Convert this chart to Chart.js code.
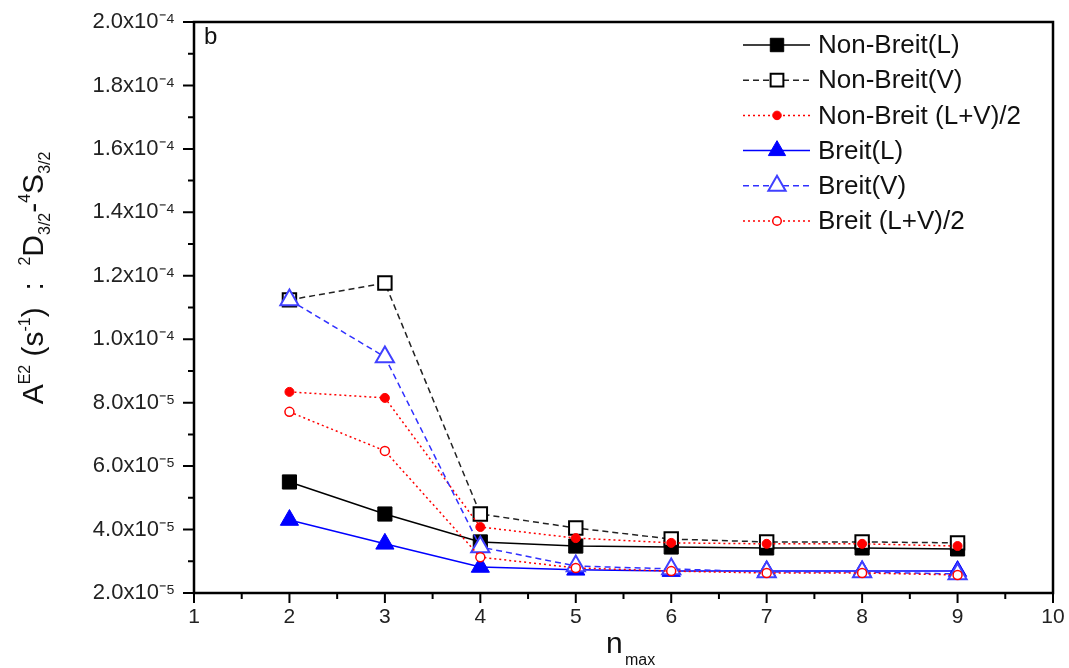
<!DOCTYPE html>
<html><head><meta charset="utf-8">
<script src="https://cdn.jsdelivr.net/npm/chart.js@4"></script>
<style>html,body{margin:0;padding:0;background:#fff}#wrap{width:1069px;height:668px;position:relative}</style>
</head><body><div id="wrap"><canvas id="c"></canvas></div>
<script>
// ---- data ----
const nmax = [2, 3, 4, 5, 6, 7, 8, 9];
const nonBreitL   = [5.50e-5, 4.49e-5, 3.61e-5, 3.48e-5, 3.45e-5, 3.42e-5, 3.42e-5, 3.39e-5];
const nonBreitV   = [1.124e-4, 1.177e-4, 4.49e-5, 4.05e-5, 3.70e-5, 3.61e-5, 3.61e-5, 3.58e-5];
const nonBreitAvg = [8.34e-5, 8.15e-5, 4.08e-5, 3.73e-5, 3.58e-5, 3.55e-5, 3.55e-5, 3.48e-5];
const breitL      = [4.30e-5, 3.55e-5, 2.82e-5, 2.73e-5, 2.69e-5, 2.69e-5, 2.69e-5, 2.69e-5];
const breitV      = [1.124e-4, 9.44e-5, 3.45e-5, 2.85e-5, 2.76e-5, 2.66e-5, 2.66e-5, 2.60e-5];
const breitAvg    = [7.71e-5, 6.48e-5, 3.13e-5, 2.79e-5, 2.69e-5, 2.63e-5, 2.63e-5, 2.57e-5];
const seriesNames = ['Non-Breit(L)', 'Non-Breit(V)', 'Non-Breit (L+V)/2', 'Breit(L)', 'Breit(V)', 'Breit (L+V)/2'];
const xTickLabels = ['1','2','3','4','5','6','7','8','9','10'];
const yTickMantissa = ['2.0','4.0','6.0','8.0','1.0','1.2','1.4','1.6','1.8','2.0'];
const yTickExponent = ['-5','-5','-5','-5','-4','-4','-4','-4','-4','-4'];
const panelLabel = 'b';

const SUP = {'-':'\u207B','0':'\u2070','1':'\u00B9','2':'\u00B2','3':'\u00B3','4':'\u2074','5':'\u2075','6':'\u2076','7':'\u2077','8':'\u2078','9':'\u2079'};
const toSup = s => s.split('').map(c => SUP[c] || c).join('');

const FONT = "'Liberation Sans', Arial, sans-serif";
const pts = arr => arr.map((v, i) => ({x: nmax[i], y: v}));

const styles = [
  {borderColor:'#000', borderDash:[], pointStyle:'rect', pointRadius:10, pointBackgroundColor:'#000', pointBorderColor:'#000', borderWidth:1.5, pointBorderWidth:1},
  {borderColor:'#222', borderDash:[6,4], pointStyle:'rect', pointRadius:9.5, pointBackgroundColor:'#fff', pointBorderColor:'#000', borderWidth:1.5, pointBorderWidth:2},
  {borderColor:'#ff0000', borderDash:[2,3], pointStyle:'circle', pointRadius:4.5, pointBackgroundColor:'#ff0000', pointBorderColor:'#ff0000', borderWidth:1.5, pointBorderWidth:1},
  {borderColor:'#0000ff', borderDash:[], pointStyle:'triangle', pointRadius:10.5, pointBackgroundColor:'#0000ff', pointBorderColor:'#0000ff', borderWidth:1.5, pointBorderWidth:1},
  {borderColor:'#3030ff', borderDash:[6,4], pointStyle:'triangle', pointRadius:10.5, pointBackgroundColor:'#fff', pointBorderColor:'#4040ff', borderWidth:1.5, pointBorderWidth:2},
  {borderColor:'#ff0000', borderDash:[2,3], pointStyle:'circle', pointRadius:4.5, pointBackgroundColor:'#fff', pointBorderColor:'#ff0000', borderWidth:1.5, pointBorderWidth:1.5}
];
const seriesData = [nonBreitL, nonBreitV, nonBreitAvg, breitL, breitV, breitAvg];

const datasets = seriesData.map((d, i) => Object.assign({
  label: seriesNames[i], data: pts(d), showLine: true, fill: false, tension: 0,
  pointHoverRadius: styles[i].pointRadius, order: 5 - i
}, styles[i]));

const framePlugin = {
  id: 'frame',
  afterDraw(chart) {
    const {ctx, chartArea: a, scales} = chart;
    const xs = scales.x, ys = scales.y;
    ctx.save();
    ctx.strokeStyle = '#000';
    ctx.lineWidth = 2.5;
    ctx.strokeRect(a.left, a.top, a.right - a.left, a.bottom - a.top);
    ctx.lineWidth = 2;
    ctx.beginPath();
    for (let v = 1; v <= 10.001; v += 0.5) {
      const px = xs.getPixelForValue(v);
      const len = Math.abs(v - Math.round(v)) < 1e-6 ? 10 : 6;
      ctx.moveTo(px, a.bottom); ctx.lineTo(px, a.bottom + len);
    }
    for (let k = 0; k <= 18; k++) {
      const v = 2e-5 + k * 1e-5;
      const py = ys.getPixelForValue(v);
      const len = k % 2 === 0 ? 11 : 6;
      ctx.moveTo(a.left, py); ctx.lineTo(a.left - len, py);
    }
    ctx.stroke();

    // panel label
    ctx.fillStyle = '#111';
    ctx.font = '24px ' + FONT;
    ctx.textBaseline = 'alphabetic';
    ctx.textAlign = 'left';
    ctx.fillText(panelLabel, a.left + 10, a.top + 22);

    // legend
    const lx0 = 743, lx1 = 810, mx = 777, tx = 818, ly0 = 45, dy = 35.2;
    chart.data.datasets.forEach((ds, i) => {
      const y = ly0 + i * dy;
      ctx.save();
      ctx.strokeStyle = ds.borderColor;
      ctx.lineWidth = 1.5;
      ctx.setLineDash(ds.borderDash || []);
      ctx.beginPath(); ctx.moveTo(lx0, y); ctx.lineTo(lx1, y); ctx.stroke();
      ctx.setLineDash([]);
      ctx.fillStyle = ds.pointBackgroundColor;
      ctx.strokeStyle = ds.pointBorderColor;
      ctx.lineWidth = ds.pointBorderWidth;
      Chart.helpers.drawPoint(ctx, {pointStyle: ds.pointStyle, radius: ds.pointRadius * 0.95, rotation: 0, borderWidth: ds.pointBorderWidth}, mx, y);
      ctx.restore();
      ctx.fillStyle = '#111';
      ctx.font = '26px ' + FONT;
      ctx.textBaseline = 'middle';
      ctx.textAlign = 'left';
      ctx.fillText(ds.label, tx, y + 1);
    });

    // x title n_max
    ctx.textBaseline = 'alphabetic';
    ctx.font = '30px ' + FONT;
    ctx.fillText('n', 606, 653);
    ctx.font = '16px ' + FONT;
    ctx.fillText('max', 625, 665);

    // y title
    const parts = [
      ['A', 30, 0], ['E2', 16, -13], [' (s', 30, 0], ['-1', 16, -13], [')  :  ', 30, 0],
      ['2', 16, -13], ['D', 30, 0], ['3/2', 16, 7], ['-', 30, 0], ['4', 16, -13], ['S', 30, 0], ['3/2', 16, 7]
    ];
    let total = 0;
    parts.forEach(p => { ctx.font = p[1] + 'px ' + FONT; total += ctx.measureText(p[0]).width; });
    ctx.translate(43, 278);
    ctx.rotate(-Math.PI / 2);
    let cx = -total / 2;
    parts.forEach(p => {
      ctx.font = p[1] + 'px ' + FONT;
      ctx.fillText(p[0], cx, p[2]);
      cx += ctx.measureText(p[0]).width;
    });
    ctx.restore();
  }
};

new Chart(document.getElementById('c'), {
  type: 'scatter',
  data: {datasets},
  options: {
    responsive: true, maintainAspectRatio: false, animation: false,
    layout: {padding: {top: 22, right: 16, left: 0, bottom: 0}},
    plugins: {legend: {display: false}, tooltip: {enabled: false}},
    scales: {
      x: {
        type: 'linear', min: 1, max: 10,
        afterFit: s => { s.height = 75; s.paddingLeft = 0; s.paddingRight = 0; },
        grid: {display: false, drawTicks: false},
        border: {display: false},
        ticks: {stepSize: 1, padding: 12, color: '#222', font: {family: FONT, size: 21},
                callback: (v) => { const i = xTickLabels.indexOf(String(v)); return i >= 0 ? xTickLabels[i] : ''; }}
      },
      y: {
        type: 'linear', min: 2e-5, max: 2e-4,
        afterFit: s => { s.width = 194; s.paddingTop = 0; s.paddingBottom = 0; },
        grid: {display: false, drawTicks: false},
        border: {display: false},
        ticks: {stepSize: 2e-5, padding: 19, color: '#222', font: {family: FONT, size: 22},
                callback: (v, i) => (yTickMantissa[i] !== undefined ? yTickMantissa[i] + 'x10' + toSup(yTickExponent[i]) : '')}
      }
    }
  },
  plugins: [framePlugin]
});
</script></body></html>
